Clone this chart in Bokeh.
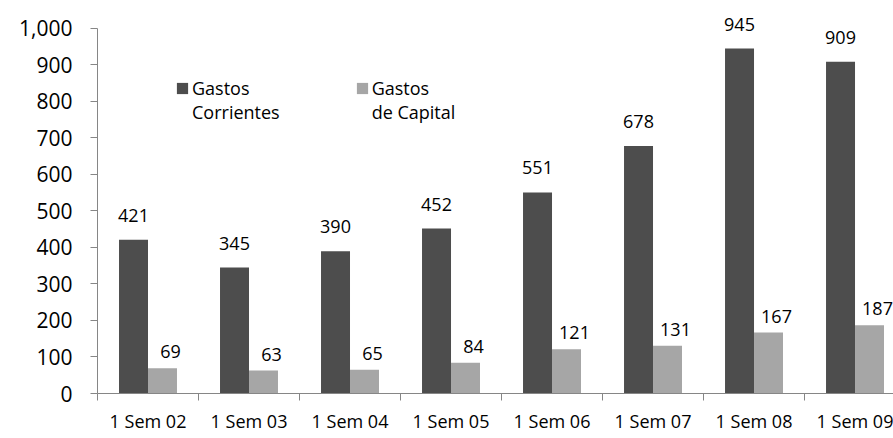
from bokeh.plotting import figure
from bokeh.models import (ColumnDataSource, Range1d, FixedTicker, NumeralTickFormatter,
                          LabelSet, Legend, LegendItem)
from bokeh.core.properties import value
from bokeh.embed import file_html
from bokeh.resources import INLINE

# ---- data ----
categories = ["1 Sem 02", "1 Sem 03", "1 Sem 04", "1 Sem 05",
              "1 Sem 06", "1 Sem 07", "1 Sem 08", "1 Sem 09"]
gastos_corrientes = [421, 345, 390, 452, 551, 678, 945, 909]
gastos_capital = [69, 63, 65, 84, 121, 131, 167, 187]
y_ticks = [0, 100, 200, 300, 400, 500, 600, 700, 800, 900, 1000]
series_names = ["Gastos\nCorrientes", "Gastos\nde Capital"]

# ---- style ----
FONT = "Open Sans"
DARK = "#4d4d4d"
LIGHT = "#a6a6a6"
AXIS = "#868686"
BAR_W = 0.287

idx = list(range(len(categories)))
src = ColumnDataSource(dict(
    x_c=[i - BAR_W / 2 for i in idx],
    x_k=[i + BAR_W / 2 for i in idx],
    corr=gastos_corrientes,
    cap=gastos_capital,
    corr_lbl=[str(v) for v in gastos_corrientes],
    cap_lbl=[str(v) for v in gastos_capital],
))

p = figure(width=893, height=438, output_backend="svg", toolbar_location=None,
           x_range=Range1d(-0.5, 7.381), y_range=Range1d(0, 1076.7),
           min_border_left=97, min_border_right=0, min_border_top=0,
           min_border_bottom=45)
p.outline_line_color = None
p.grid.visible = False
p.background_fill_color = "white"
p.border_fill_color = "white"

r1 = p.vbar(x="x_c", top="corr", width=BAR_W, source=src,
            fill_color=DARK, line_color=None)
r2 = p.vbar(x="x_k", top="cap", width=BAR_W, source=src,
            fill_color=LIGHT, line_color=None)

# value labels
p.add_layout(LabelSet(x="x_c", y="corr", text="corr_lbl", source=src,
                      y_offset=18, text_align="center", text_baseline="alphabetic",
                      text_font=value(FONT), text_font_size=value("18px"),
                      text_color="#000000"))
p.add_layout(LabelSet(x="x_k", y="cap", text="cap_lbl", source=src,
                      x_offset=8, y_offset=10, text_align="center",
                      text_baseline="alphabetic",
                      text_font=value(FONT), text_font_size=value("18px"),
                      text_color="#000000"))

# axes
xa = p.xaxis[0]
xa.ticker = FixedTicker(ticks=idx, minor_ticks=[i - 0.5 for i in range(len(categories) + 1)])
xa.major_label_overrides = {i: c for i, c in zip(idx, categories)}
xa.major_tick_out = 0
xa.major_tick_in = 0
xa.minor_tick_out = 7
xa.minor_tick_in = 0
xa.minor_tick_line_color = AXIS
xa.axis_line_color = AXIS
xa.major_label_standoff = 8
xa.major_label_text_font = FONT
xa.major_label_text_font_size = "18px"
xa.major_label_text_color = "#000000"

ya = p.yaxis[0]
ya.ticker = FixedTicker(ticks=y_ticks)
ya.formatter = NumeralTickFormatter(format="0,0")
ya.bounds = (0, 1000)
ya.major_tick_out = 7
ya.major_tick_in = 0
ya.minor_tick_out = 0
ya.minor_tick_in = 0
ya.major_tick_line_color = AXIS
ya.axis_line_color = AXIS
ya.major_label_standoff = 18
ya.major_label_text_font = FONT
ya.major_label_text_font_size = "21px"
ya.major_label_text_color = "#000000"

legend = Legend(items=[LegendItem(label="\n" + series_names[0], renderers=[r1]),
                       LegendItem(label="\n" + series_names[1], renderers=[r2])],
                orientation="horizontal", location=(78, 269),
                glyph_width=14, glyph_height=14, label_standoff=3, spacing=75,
                padding=0, margin=0, border_line_alpha=0, background_fill_alpha=0,
                label_text_font=FONT, label_text_font_size="18px",
                label_text_line_height=1.45,
                label_text_color="#000000")
p.add_layout(legend, "center")

open("out.html", "w").write(file_html(p, INLINE))
